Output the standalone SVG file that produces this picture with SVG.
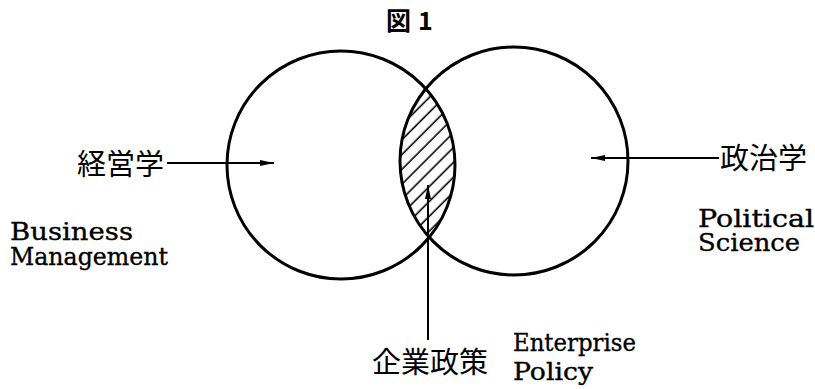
<svg xmlns="http://www.w3.org/2000/svg" width="815" height="389" viewBox="0 0 815 389">
<style>
.ring{fill:none;stroke:#000;stroke-width:3}
.conn{stroke:#000;stroke-width:2;fill:none}
.jp{font-family:"Noto Sans CJK JP","Noto Sans CJK SC",sans-serif;font-size:29px;fill:#000}
.en{font-family:"DejaVu Serif","Liberation Serif",serif;font-size:24.5px;fill:#000;stroke:#000;stroke-width:0.35}
.title{font-family:"Noto Sans CJK JP",sans-serif;font-size:25px;font-weight:bold;fill:#000}
</style>
<defs>
<marker id="ah" viewBox="0 0 14 8" refX="14" refY="4" markerWidth="14" markerHeight="8" markerUnits="userSpaceOnUse" orient="auto">
<path d="M0,1 L14,4 L0,7 Z" fill="#000"/>
</marker>
<pattern id="hatch" width="10.5" height="10.5" patternUnits="userSpaceOnUse" patternTransform="rotate(-45)">
<line x1="0" y1="5" x2="10.5" y2="5" stroke="#000" stroke-width="1.6"/>
</pattern>
<clipPath id="cl"><circle cx="341" cy="165" r="114"/></clipPath>
<clipPath id="cr"><circle cx="514" cy="161" r="114"/></clipPath>
</defs>
<rect width="815" height="389" fill="#fff"/>
<g id="title"><text class="title" x="386" y="30">図</text><text class="title" x="418" y="30" font-family="DejaVu Serif,serif">1</text></g>
<g id="overlap"><g clip-path="url(#cl)"><rect x="380" y="80" width="100" height="170" fill="url(#hatch)" clip-path="url(#cr)"/></g></g>
<g id="business"><circle class="ring" cx="341" cy="165" r="114"/></g>
<g id="political"><circle class="ring" cx="514" cy="161" r="114"/></g>
<g id="connectors">
<line class="conn" x1="167" y1="163" x2="274" y2="163" marker-end="url(#ah)"/>
<line class="conn" x1="719" y1="158" x2="591" y2="158" marker-end="url(#ah)"/>
<line class="conn" x1="428" y1="340" x2="428" y2="185" marker-end="url(#ah)"/>
</g>
<g id="label-business">
<text class="jp" x="77" y="175">経営学</text>
<text class="en" x="10" y="240" textLength="123" lengthAdjust="spacingAndGlyphs">Business</text>
<text class="en" x="10" y="265" textLength="158" lengthAdjust="spacingAndGlyphs">Management</text>
</g>
<g id="label-political">
<text class="jp" x="720" y="169">政治学</text>
<text class="en" x="698" y="227" textLength="116" lengthAdjust="spacingAndGlyphs">Political</text>
<text class="en" x="698" y="251" textLength="102" lengthAdjust="spacingAndGlyphs">Science</text>
</g>
<g id="label-enterprise">
<text class="jp" x="372" y="373">企業政策</text>
<text class="en" x="513" y="351" textLength="123" lengthAdjust="spacingAndGlyphs">Enterprise</text>
<text class="en" x="513" y="380" textLength="80" lengthAdjust="spacingAndGlyphs">Policy</text>
</g>
</svg>
